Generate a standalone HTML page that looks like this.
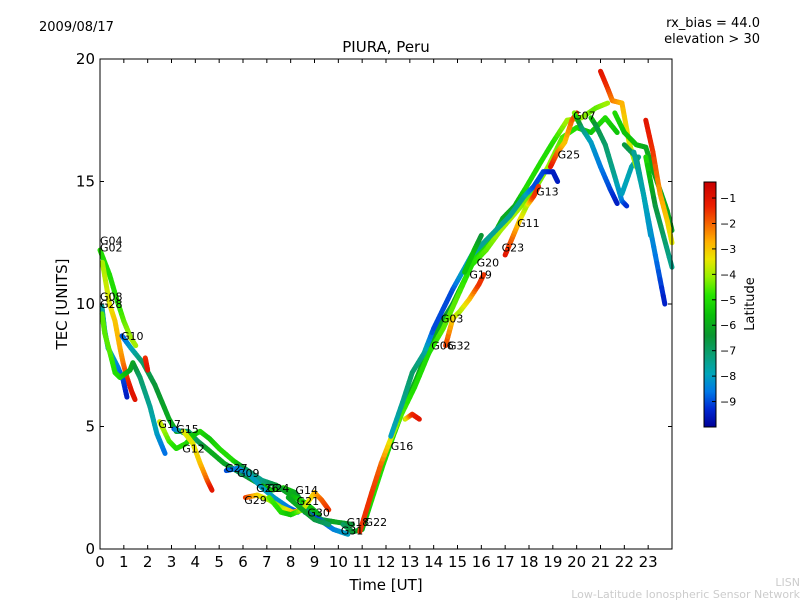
<!DOCTYPE html>
<html><head><meta charset="utf-8"><style>
html,body{margin:0;padding:0;background:#fff;}
svg{display:block;font-family:"DejaVu Sans","Liberation Sans",sans-serif;}
</style></head><body>
<svg id="chart" width="800" height="600" viewBox="0 0 800 600">
<g id="plot"></g>
<rect x="100" y="59" width="572" height="490" fill="none" stroke="#000" stroke-width="1"/>
<g id="axes"></g>
<g id="labels"></g>
<text x="39" y="31" font-size="13">2009/08/17</text>
<text x="386" y="52" font-size="15" text-anchor="middle">PIURA, Peru</text>
<text x="760" y="27" font-size="13" text-anchor="end">rx_bias = 44.0</text>
<text x="760" y="43" font-size="13" text-anchor="end">elevation &gt; 30</text>
<text x="386" y="590" font-size="15" text-anchor="middle">Time [UT]</text>
<text transform="translate(67,304) rotate(-90)" font-size="15" text-anchor="middle">TEC [UNITS]</text>
<g id="cb"></g>
<text transform="translate(754,304) rotate(-90)" font-size="13" text-anchor="middle">Latitude</text>
<text x="800" y="586" font-size="11" fill="#ccc" text-anchor="end">LISN</text>
<text x="800" y="598" font-size="11" fill="#ccc" text-anchor="end">Low-Latitude Ionospheric Sensor Network</text>
</svg>
<script>
// data: each track point = [time UT hours, TEC units, latitude]
const xTicks=[0,1,2,3,4,5,6,7,8,9,10,11,12,13,14,15,16,17,18,19,20,21,22,23];
const yTicks=[0,5,10,15,20];
const cbTicks=[-1,-2,-3,-4,-5,-6,-7,-8,-9];
const trackG04=[[0,12.2,-5],[0.4,11.2,-5],[0.7,10.2,-5],[1.0,9.3,-4.5],[1.3,8.6,-4],[1.5,8.3,-4]];
const trackG02=[[0.1,11.7,-4],[0.4,10.0,-3.5],[0.63,9.3,-3],[0.84,8.2,-2.7],[0.97,7.6,-2.3],[1.13,7.0,-1.5],[1.34,6.4,-1],[1.47,6.1,-1]];
const trackG08=[[0.08,9.9,-7.5],[0.2,8.9,-7.8],[0.34,8.2,-8],[0.55,7.8,-8],[0.76,7.4,-8.5],[0.97,6.9,-9],[1.13,6.2,-9.5]];
const trackG28=[[0.08,9.6,-4.5],[0.2,8.8,-4.5],[0.42,8.0,-4.5],[0.63,7.2,-5],[0.84,7.0,-5],[1.26,7.3,-6],[1.38,7.6,-6],[1.68,7.0,-7],[2.1,5.8,-7.5],[2.39,4.7,-8],[2.73,3.9,-8.7]];
const trackG10=[[0.92,8.7,-9],[1.3,8.2,-8],[1.8,7.6,-7],[2.3,6.7,-6.5],[2.9,5.3,-6],[3.2,4.8,-6],[3.7,4.8,-7],[4.1,4.4,-7],[4.6,4.0,-6],[5.2,3.5,-6],[5.9,3.1,-7],[6.6,2.7,-6],[7.2,2.4,-5.5],[7.7,2.5,-5],[8.2,2.3,-6],[8.7,1.6,-7],[9.3,1.2,-7],[9.9,1.1,-6],[10.6,1.0,-6.5]];
const trackG15=[[3.1,4.9,-9],[3.4,4.8,-7.5],[3.8,4.6,-5.5],[4.2,4.8,-5],[4.6,4.5,-5.5],[5.0,4.1,-5],[5.6,3.6,-5],[6.2,3.2,-7],[6.8,2.8,-7.5],[7.4,2.6,-6.5],[8.0,2.2,-6],[8.6,1.9,-5],[9.2,1.4,-6]];
const trackRed1=[[1.9,7.8,-1.5],[2.0,7.3,-1]];
const trackG17=[[2.5,5.2,-3.5],[2.9,4.4,-4.5],[3.2,4.1,-5],[3.6,4.3,-5],[4.0,4.7,-5.5]];
const trackG12=[[3.5,4.8,-3.5],[3.9,4.3,-3.5],[4.2,3.5,-3],[4.5,2.8,-2],[4.7,2.4,-1]];
const trackG27=[[5.3,3.2,-9],[5.8,3.3,-8.5],[6.3,3.0,-8],[6.8,2.5,-8],[7.3,2.1,-8],[7.9,1.7,-8.5],[8.3,1.5,-9]];
const trackG29=[[6.1,2.1,-1.5],[6.6,2.2,-3],[7.1,2.0,-4],[7.6,1.7,-4],[8.1,1.5,-3],[8.5,1.6,-2]];
const trackG14=[[7.1,2.1,-4.5],[7.6,1.5,-5],[8.0,1.4,-5.5],[8.5,1.6,-4],[9.0,2.3,-3],[9.3,2.0,-2],[9.6,1.6,-1.5]];
const trackG31=[[8.6,1.5,-9],[9.2,1.2,-9],[9.8,0.8,-8.5],[10.4,0.6,-8]];
const trackG21=[[7.9,2.1,-6],[8.5,1.6,-6],[9.0,1.2,-6.5],[9.6,1.0,-7]];
const trackG22=[[10.2,1.0,-7],[10.6,0.7,-6.5],[11.0,0.8,-6],[11.4,2.0,-5],[11.9,3.5,-5],[12.3,4.6,-5],[12.8,5.9,-6],[13.3,7.0,-6],[13.8,8.2,-6],[14.3,9.2,-6],[14.8,10.0,-6.5],[15.3,11.0,-5],[15.8,12.0,-5],[16.4,12.6,-5],[16.9,13.5,-6],[17.4,14.0,-6],[17.9,14.8,-5],[18.5,15.8,-5],[19.0,16.6,-5],[19.6,17.5,-4],[20.2,17.6,-4],[20.8,18.0,-4.5],[21.3,18.2,-4]];
const trackG18=[[10.9,0.7,-1.5],[11.4,2.3,-1.5],[11.8,3.5,-2],[12.2,4.5,-3.5],[12.6,5.4,-4.5],[13.2,6.6,-5],[13.8,8.0,-5],[14.4,9.0,-4.5],[15.0,10.3,-4.5],[15.6,11.6,-5],[16.2,12.2,-4.5],[16.8,13.0,-4],[17.5,13.8,-4],[18.2,14.6,-4.5],[18.8,15.6,-4],[19.4,16.8,-4.5],[20.0,17.2,-5],[20.6,17.0,-5.5],[21.2,17.6,-5],[21.7,17.0,-5.5]];
const trackG16=[[12.2,4.6,-8],[12.7,6.0,-7.5],[13.1,7.2,-7],[13.6,8.0,-7.5],[14.0,9.0,-9],[14.4,9.8,-9],[14.8,10.6,-9],[15.2,11.3,-8],[15.6,12.0,-8],[16.0,12.4,-7.5],[16.6,13.0,-7.5],[17.2,13.6,-7.5],[17.8,14.4,-7.5],[18.2,14.8,-9],[18.6,15.4,-9],[19.0,15.4,-9.5],[19.2,15.0,-9.5]];
const trackRed2=[[12.8,5.3,-4],[13.1,5.5,-1.5],[13.4,5.3,-1]];
const trackG32=[[14.5,8.3,-1.5],[14.8,9.4,-3],[15.1,9.7,-4],[15.5,10.2,-3],[15.9,10.8,-1.5],[16.1,11.2,-1.5]];
const trackG20=[[15.3,11.3,-5.5],[15.7,12.2,-5.5],[16.0,12.8,-6.5]];
const trackG23=[[17.0,12.0,-1],[17.3,12.7,-2],[17.6,13.4,-3],[17.9,14.0,-4],[18.2,14.4,-1.5],[18.4,14.8,-1.5]];
const trackG25=[[18.9,15.6,-1],[19.2,16.2,-2],[19.5,16.6,-3],[19.8,17.5,-2],[20.0,17.8,-1.5]];
const trackG07=[[19.9,17.8,-4],[20.2,17.2,-7],[20.6,16.6,-8],[21.0,15.6,-8.5],[21.4,14.7,-9],[21.7,14.1,-9.5]];
const trackD1=[[20.6,17.6,-5],[20.8,17.3,-6.5],[21.2,16.5,-7],[21.6,15.2,-7.5],[21.9,14.2,-8.5],[22.1,14.0,-9.3]];
const trackD2=[[21.9,14.5,-8],[22.3,15.6,-7.8],[22.6,16.0,-7.5]];
const trackRed3=[[21.0,19.5,-1],[21.3,18.8,-1.5],[21.5,18.3,-2.2],[21.9,18.2,-2.7],[22.2,16.6,-3.5],[22.5,15.6,-4]];
const trackD3=[[21.6,17.8,-5],[22.0,17.0,-5.5],[22.5,16.5,-5.5],[22.9,16.4,-6],[23.3,15.2,-6],[23.8,13.8,-6],[24,13.0,-6.2]];
const trackD4=[[22.0,16.5,-6.5],[22.5,16.0,-7],[22.9,14.0,-8],[23.3,12.0,-8.5],[23.7,10.0,-9.5]];
const trackD5=[[22.9,17.5,-1],[23.2,16.2,-1.5],[23.5,14.5,-2.5],[23.8,13.4,-3],[24,12.5,-3.5]];
const trackD6=[[22.4,16.2,-7.5],[22.8,14.5,-7.8],[23.1,12.8,-8.2]];
const trackD7=[[22.9,16.0,-5],[23.3,14.0,-6.5],[24,11.5,-7.5]];
const tracks=[trackG04,trackG02,trackG08,trackG28,trackG10,trackG15,trackRed1,trackG17,trackG12,trackG27,trackG29,trackG14,trackG31,trackG21,trackG22,trackG18,trackG16,trackRed2,trackG32,trackG20,trackG23,trackG25,trackG07,trackD1,trackD2,trackRed3,trackD3,trackD4,trackD5,trackD6,trackD7];
const satNames=["G04","G02","G08","G28","G10","G17","G15","G12","G27","G09","G26","G24","G29","G14","G21","G30","G31","G18","G22","G16","G06","G32","G03","G19","G20","G23","G11","G13","G25","G07"];
const satTimes=[0,0,0,0,0.88,2.45,3.2,3.45,5.25,5.75,6.55,7.0,6.05,8.2,8.25,8.7,10.1,10.35,11.1,12.2,13.9,14.6,14.3,15.5,15.8,16.85,17.5,18.3,19.2,19.85];
const satTEC=[12.6,12.3,10.3,10.0,8.7,5.1,4.9,4.1,3.3,3.1,2.5,2.5,2.0,2.4,1.95,1.5,0.75,1.1,1.1,4.2,8.3,8.3,9.4,11.2,11.7,12.3,13.3,14.6,16.1,17.7];
const latMin=-10, latMax=-0.37;
const X=t=>100+t*(572/24);
const Y=v=>549-v*24.5;
const NS="http://www.w3.org/2000/svg";
const stops=[[-10,[0,0,150]],[-9.3,[0,40,210]],[-8.6,[0,120,230]],[-7.9,[0,165,185]],[-7.2,[10,160,120]],[-6.4,[10,150,50]],[-5.6,[10,190,10]],[-4.8,[40,230,0]],[-4.1,[150,240,0]],[-3.4,[235,230,0]],[-2.7,[255,175,0]],[-2.0,[245,100,0]],[-1.3,[235,30,0]],[-0.37,[200,0,0]]];
function col(l){
  if(l<=stops[0][0])return `rgb(${stops[0][1]})`;
  for(let i=1;i<stops.length;i++){if(l<=stops[i][0]){const a=stops[i-1],b=stops[i],f=(l-a[0])/(b[0]-a[0]);const c=a[1].map((v,k)=>Math.round(v+(b[1][k]-v)*f));return `rgb(${c})`;}}
  return `rgb(${stops[stops.length-1][1]})`;
}
const plot=document.getElementById('plot');
tracks.forEach((tr)=>{
  for(let i=1;i<tr.length;i++){
    const a=tr[i-1],b=tr[i];
    const n=6;
    for(let k=0;k<n;k++){
      const f0=k/n,f1=(k+1)/n;
      const l=document.createElementNS(NS,'line');
      l.setAttribute('x1',X(a[0]+(b[0]-a[0])*f0));l.setAttribute('y1',Y(a[1]+(b[1]-a[1])*f0));
      l.setAttribute('x2',X(a[0]+(b[0]-a[0])*f1));l.setAttribute('y2',Y(a[1]+(b[1]-a[1])*f1));
      l.setAttribute('stroke',col(a[2]+(b[2]-a[2])*(f0+f1)/2));
      l.setAttribute('stroke-width','5');l.setAttribute('stroke-linecap','round');
      
      
      plot.appendChild(l);
    }
  }
});
const lab=document.getElementById('labels');
satNames.forEach((n,i)=>{
  const t=document.createElementNS(NS,'text');
  t.setAttribute('x',X(satTimes[i]));t.setAttribute('y',Y(satTEC[i])+4);
  t.setAttribute('font-size','11');t.textContent=n;
  
  
  lab.appendChild(t);
});
const ax=document.getElementById('axes');
function ln(x1,y1,x2,y2,g){const l=document.createElementNS(NS,'line');l.setAttribute('x1',x1);l.setAttribute('y1',y1);l.setAttribute('x2',x2);l.setAttribute('y2',y2);l.setAttribute('stroke','#000');l.setAttribute('stroke-width','1');g.appendChild(l);return l;}
function tx(x,y,s,sz,anchor,g){const t=document.createElementNS(NS,'text');t.setAttribute('x',x);t.setAttribute('y',y);t.setAttribute('font-size',sz);t.setAttribute('text-anchor',anchor);t.textContent=s;g.appendChild(t);return t;}
xTicks.forEach(v=>{
  const a=ln(X(v),549,X(v),545,ax);
  const b=ln(X(v),59,X(v),63,ax);
  const t=tx(X(v),567,String(v),15,'middle',ax);
});
yTicks.forEach(v=>{
  const a=ln(100,Y(v),104,Y(v),ax);
  const b=ln(672,Y(v),668,Y(v),ax);
  const t=tx(95,Y(v)+5,String(v),15,'end',ax);
});
const cb=document.getElementById('cb');
const CBY=l=>427-(l-latMin)/(latMax-latMin)*245;
for(let i=0;i<245;i++){
  const r=document.createElementNS(NS,'rect');
  r.setAttribute('x',704);r.setAttribute('y',427-i-1);r.setAttribute('width',12);r.setAttribute('height',1.2);
  r.setAttribute('fill',col(latMin+(i+0.5)/245*(latMax-latMin)));
  cb.appendChild(r);
}
const fr=document.createElementNS(NS,'rect');
fr.setAttribute('x',704);fr.setAttribute('y',182);fr.setAttribute('width',12);fr.setAttribute('height',245);fr.setAttribute('fill','none');fr.setAttribute('stroke','#000');
cb.appendChild(fr);
cbTicks.forEach(v=>{
  const a=ln(712,CBY(v),716,CBY(v),cb);
  const t=tx(720,CBY(v)+4,'\u2212'+Math.abs(v),11,'start',cb);
});
</script>
</body></html>
